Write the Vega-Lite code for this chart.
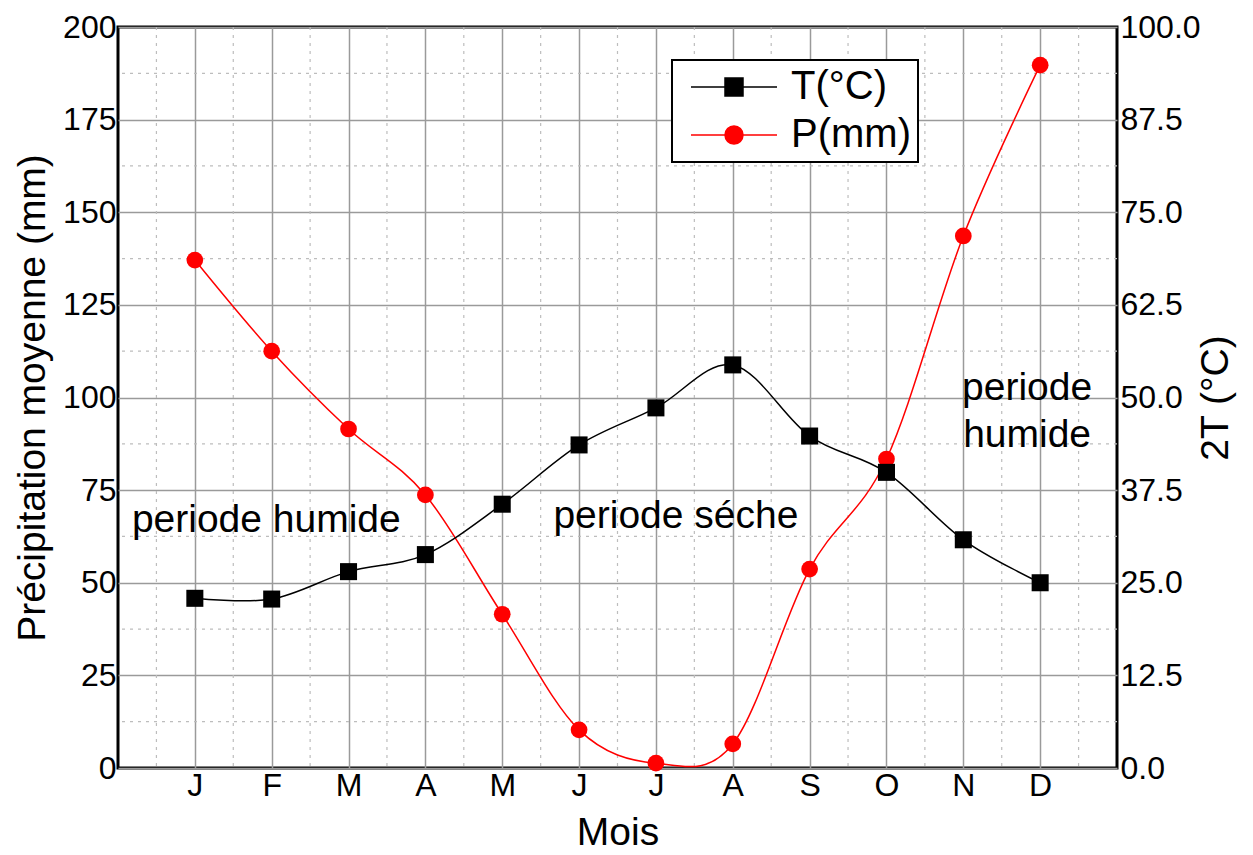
{
  "$schema": "https://vega.github.io/schema/vega-lite/v6.json",
  "width": 999,
  "height": 741,
  "autosize": {"type": "none"},
  "padding": {"left": 118, "top": 27, "right": 136, "bottom": 87},
  "background": "white",
  "config": {
    "font": "Liberation Sans",
    "view": {"stroke": "black", "strokeWidth": 3},
    "axis": {"labelColor": "black", "titleColor": "black", "titleFontWeight": "normal", "labelFont": "Liberation Sans", "titleFont": "Liberation Sans"}
  },
  "datasets": {
    "clim": [
      {"m": 1, "mois": "J", "T": 22.9, "P": 137.1},
      {"m": 2, "mois": "F", "T": 22.8, "P": 112.5},
      {"m": 3, "mois": "M", "T": 26.5, "P": 91.5},
      {"m": 4, "mois": "A", "T": 28.8, "P": 73.7},
      {"m": 5, "mois": "M", "T": 35.6, "P": 41.5},
      {"m": 6, "mois": "J", "T": 43.6, "P": 10.3},
      {"m": 7, "mois": "J", "T": 48.6, "P": 1.3},
      {"m": 8, "mois": "A", "T": 54.4, "P": 6.5},
      {"m": 9, "mois": "S", "T": 44.8, "P": 53.7},
      {"m": 10, "mois": "O", "T": 39.9, "P": 83.4},
      {"m": 11, "mois": "N", "T": 30.8, "P": 143.6},
      {"m": 12, "mois": "D", "T": 25.0, "P": 189.7}
    ],
    "vminor": [
      {"x": 0.5}, {"x": 1.5}, {"x": 2.5}, {"x": 3.5}, {"x": 4.5}, {"x": 5.5}, {"x": 6.5},
      {"x": 7.5}, {"x": 8.5}, {"x": 9.5}, {"x": 10.5}, {"x": 11.5}, {"x": 12.5}
    ],
    "hminor": [
      {"y": 12.5}, {"y": 37.5}, {"y": 62.5}, {"y": 87.5}, {"y": 112.5}, {"y": 137.5}, {"y": 162.5}, {"y": 187.5}
    ],
    "notes": [
      {"x": 1.93, "y": 67, "label": "periode humide"},
      {"x": 7.26, "y": 68, "label": "periode séche"},
      {"x": 11.83, "y": 102.6, "label": "periode"},
      {"x": 11.83, "y": 90.0, "label": "humide"}
    ]
  },
  "layer": [
    {
      "layer": [
        {
          "data": {"name": "vminor"},
          "mark": {"type": "rule", "color": "#bdbdbd", "strokeWidth": 1.2, "strokeDash": [3, 5]},
          "encoding": {
            "x": {"field": "x", "type": "quantitative", "scale": {"domain": [0, 13], "nice": false, "zero": false}}
          }
        },
        {
          "data": {"name": "hminor"},
          "mark": {"type": "rule", "color": "#bdbdbd", "strokeWidth": 1.2, "strokeDash": [3, 5]},
          "encoding": {
            "y": {"field": "y", "type": "quantitative", "scale": {"domain": [0, 200], "nice": false}}
          }
        },
        {
          "data": {"name": "clim"},
          "mark": {"type": "line", "interpolate": "cardinal", "strokeWidth": 1.5, "clip": true},
          "encoding": {
            "x": {
              "field": "m", "type": "quantitative",
              "scale": {"domain": [0, 13], "nice": false, "zero": false},
              "axis": {
                "orient": "bottom",
                "values": [1, 2, 3, 4, 5, 6, 7, 8, 9, 10, 11, 12],
                "labelExpr": "['','J','F','M','A','M','J','J','A','S','O','N','D'][datum.value]",
                "labelFontSize": 32,
                "labelPadding": 2,
                "ticks": false,
                "domain": false,
                "grid": true,
                "gridColor": "#9a9a9a",
                "gridWidth": 1.5,
                "title": "Mois",
                "titleFontSize": 39,
                "titlePadding": 12
              }
            },
            "y": {
              "field": "P", "type": "quantitative",
              "scale": {"domain": [0, 200], "nice": false},
              "axis": {
                "orient": "left",
                "values": [0, 25, 50, 75, 100, 125, 150, 175, 200],
                "labelFontSize": 32,
                "labelPadding": 2,
                "ticks": false,
                "domain": false,
                "grid": true,
                "gridColor": "#9a9a9a",
                "gridWidth": 1.5,
                "title": "Précipitation moyenne (mm)",
                "titleFontSize": 39,
                "titlePadding": 10
              }
            },
            "color": {
              "datum": "P(mm)",
              "type": "nominal",
              "scale": {"domain": ["T(°C)", "P(mm)"], "range": ["black", "red"]},
              "legend": {
                "title": null,
                "orient": "none",
                "legendX": 554,
                "legendY": 33,
                "strokeColor": "black",
                "fillColor": "white",
                "padding": 7,
                "labelFontSize": 40,
                "labelColor": "black",
                "labelFont": "Liberation Sans",
                "labelOffset": 72,
                "symbolSize": 100,
                "rowPadding": 8,
                "encode": {
                  "symbols": {
                    "update": {
                      "shape": {"signal": "datum.value == 'T(°C)' ? 'M-1.6,0H15.6M5.2,-1.8H8.8V1.8H5.2Z' : 'M-1.6,0H15.6M8.8,0A1.8,1.8 0 1,1 5.2,0A1.8,1.8 0 1,1 8.8,0Z'"},
                      "fill": {"signal": "datum.value == 'T(°C)' ? 'black' : 'red'"},
                      "stroke": {"signal": "datum.value == 'T(°C)' ? 'black' : 'red'"},
                      "strokeWidth": {"value": 1.5},
                      "opacity": {"value": 1}
                    }
                  },
                  "legend": {"update": {"strokeWidth": {"value": 2}}}
                }
              }
            }
          }
        },
        {
          "data": {"name": "clim"},
          "mark": {"type": "point", "shape": "circle", "filled": true, "color": "red", "opacity": 1, "size": 280},
          "encoding": {
            "x": {"field": "m", "type": "quantitative"},
            "y": {"field": "P", "type": "quantitative"}
          }
        },
        {
          "data": {"name": "notes"},
          "mark": {"type": "text", "fontSize": 39, "font": "Liberation Sans", "color": "black", "align": "center", "baseline": "middle"},
          "encoding": {
            "x": {"field": "x", "type": "quantitative"},
            "y": {"field": "y", "type": "quantitative"},
            "text": {"field": "label"}
          }
        }
      ]
    },
    {
      "data": {"name": "clim"},
      "layer": [
        {
          "mark": {"type": "line", "interpolate": "cardinal", "strokeWidth": 1.5, "clip": true},
          "encoding": {
            "x": {"field": "m", "type": "quantitative"},
            "y": {
              "field": "T", "type": "quantitative",
              "scale": {"domain": [0, 100], "nice": false},
              "axis": {
                "orient": "right",
                "values": [0, 12.5, 25, 37.5, 50, 62.5, 75, 87.5, 100],
                "format": ".1f",
                "labelFontSize": 32,
                "labelPadding": 3,
                "ticks": false,
                "domain": false,
                "grid": false,
                "title": "2T (°C)",
                "titleAngle": 270,
                "titleFontSize": 39,
                "titlePadding": 35
              }
            },
            "color": {"datum": "T(°C)", "type": "nominal"}
          }
        },
        {
          "mark": {"type": "point", "shape": "square", "filled": true, "color": "black", "opacity": 1, "size": 290},
          "encoding": {
            "x": {"field": "m", "type": "quantitative"},
            "y": {"field": "T", "type": "quantitative"}
          }
        }
      ]
    }
  ],
  "resolve": {"scale": {"y": "independent"}}
}
